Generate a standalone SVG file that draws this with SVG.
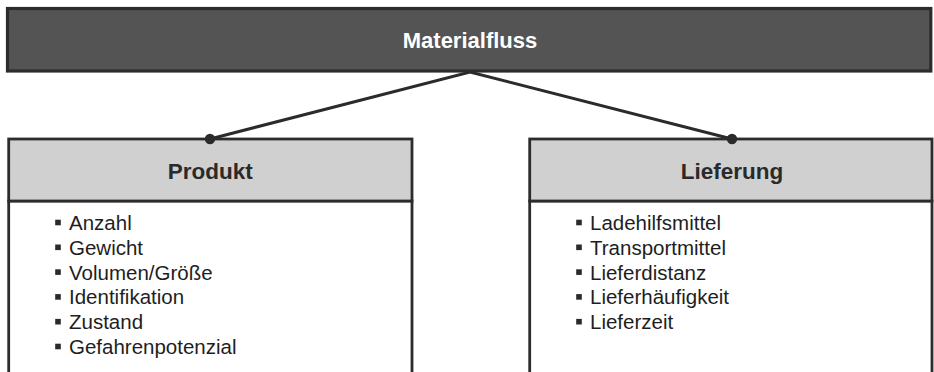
<svg xmlns="http://www.w3.org/2000/svg" width="934" height="372" viewBox="0 0 934 372">
  <style>
    .frame { stroke: #2c2c2c; stroke-width: 2.8; }
    .root-box { fill: #545454; stroke: #2c2c2c; stroke-width: 3.2; }
    .head { fill: #d0d0d0; }
    .body { fill: #ffffff; }
    .title { font-family: "Liberation Sans", Arial, sans-serif; font-weight: bold; text-anchor: middle; }
    .root-title { fill: #ffffff; font-size: 22px; }
    .card-title { fill: #2a2a2a; font-size: 22.5px; }
    .item { font-family: "Liberation Sans", Arial, sans-serif; font-size: 20.5px; fill: #1e1e1e; }
    .bullet { fill: #2a2a2a; }
    .link { stroke: #2b2b2b; stroke-width: 3; fill: none; }
    .joint { fill: #2b2b2b; }
  </style>
  <defs>
    <rect id="sq" x="-2.8" y="-2.8" width="5.6" height="5.6" class="bullet"/>
  </defs>

  <rect width="934" height="372" fill="#ffffff"/>

  <!-- connectors from the root to both cards -->
  <g id="connectors">
    <polyline class="link" points="210,139 470,72 732,139"/>
  </g>

  <!-- root node -->
  <g id="materialfluss">
    <rect class="root-box" x="7.5" y="8.5" width="923.3" height="62.5"/>
    <text class="title root-title" x="470" y="47.5">Materialfluss</text>
  </g>

  <!-- left card -->
  <g id="produkt">
    <rect class="body frame" x="8.7" y="201" width="403.3" height="180"/>
    <rect class="head frame" x="8.7" y="139" width="403.3" height="62"/>
    <text class="title card-title" x="210.3" y="179">Produkt</text>
    <g class="item">
      <use href="#sq" x="58" y="222.5"/><text x="69" y="230">Anzahl</text>
      <use href="#sq" x="58" y="247.3"/><text x="69" y="254.8">Gewicht</text>
      <use href="#sq" x="58" y="272.1"/><text x="69" y="279.6">Volumen/Größe</text>
      <use href="#sq" x="58" y="296.9"/><text x="69" y="304.4">Identifikation</text>
      <use href="#sq" x="58" y="321.7"/><text x="69" y="329.2">Zustand</text>
      <use href="#sq" x="58" y="346.5"/><text x="69" y="354">Gefahrenpotenzial</text>
    </g>
  </g>

  <!-- right card -->
  <g id="lieferung">
    <rect class="body frame" x="529.7" y="201" width="402.3" height="180"/>
    <rect class="head frame" x="529.7" y="139" width="402.3" height="62"/>
    <text class="title card-title" x="732" y="179">Lieferung</text>
    <g class="item">
      <use href="#sq" x="579" y="222.5"/><text x="590" y="230">Ladehilfsmittel</text>
      <use href="#sq" x="579" y="247.3"/><text x="590" y="254.8">Transportmittel</text>
      <use href="#sq" x="579" y="272.1"/><text x="590" y="279.6">Lieferdistanz</text>
      <use href="#sq" x="579" y="296.9"/><text x="590" y="304.4">Lieferhäufigkeit</text>
      <use href="#sq" x="579" y="321.7"/><text x="590" y="329.2">Lieferzeit</text>
    </g>
  </g>

  <!-- joints where the connectors meet the cards -->
  <g id="joints">
    <circle class="joint" cx="210" cy="139" r="5.2"/>
    <circle class="joint" cx="732" cy="139" r="5.2"/>
  </g>
</svg>
